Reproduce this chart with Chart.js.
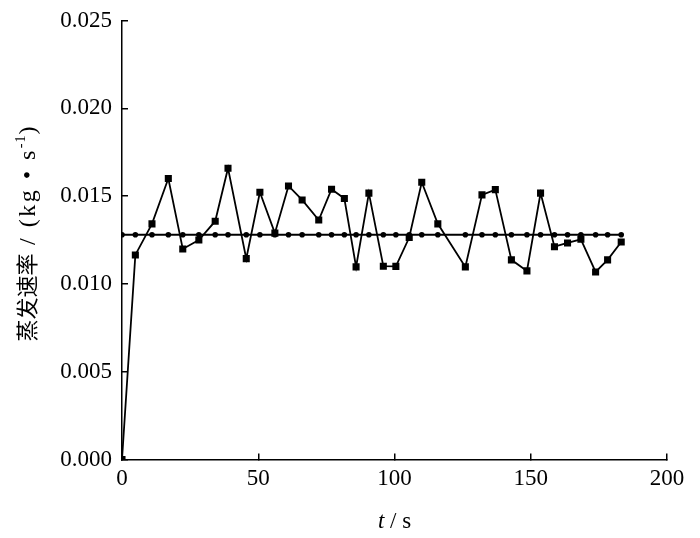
<!DOCTYPE html>
<html><head><meta charset="utf-8">
<script src="https://cdn.jsdelivr.net/npm/chart.js@4/dist/chart.umd.min.js"></script>
<style>html,body{margin:0;padding:0;background:#fff}#wrap{width:700px;height:538px;position:relative}</style>
</head><body><div id="wrap"><canvas id="c" width="700" height="538"></canvas></div>
<script>
// time (s)
const timeS = [0, 4.9, 11.0, 17.0, 22.3, 28.2, 34.2, 38.9, 45.6, 50.6, 56.1, 61.1, 66.1, 72.2, 76.9, 81.6, 85.9, 90.6, 95.9, 100.5, 105.4, 110.0, 115.9, 126.0, 132.1, 137.0, 142.9, 148.6, 153.6, 158.7, 163.5, 168.4, 173.8, 178.2, 183.2];
// measured evaporation rate (kg/s), square markers
const rateMeasured = [0, 0.01165, 0.01342, 0.01600, 0.01199, 0.01250, 0.01357, 0.01659, 0.01144, 0.01522, 0.01289, 0.01558, 0.01478, 0.01364, 0.01539, 0.01486, 0.01097, 0.01517, 0.01101, 0.01100, 0.01264, 0.01579, 0.01342, 0.01097, 0.01507, 0.01537, 0.01137, 0.01074, 0.01517, 0.01212, 0.01233, 0.01254, 0.01068, 0.01137, 0.01239];
// average evaporation rate (kg/s), circle markers
const rateAverage = [0.0128, 0.0128, 0.0128, 0.0128, 0.0128, 0.0128, 0.0128, 0.0128, 0.0128, 0.0128, 0.0128, 0.0128, 0.0128, 0.0128, 0.0128, 0.0128, 0.0128, 0.0128, 0.0128, 0.0128, 0.0128, 0.0128, 0.0128, 0.0128, 0.0128, 0.0128, 0.0128, 0.0128, 0.0128, 0.0128, 0.0128, 0.0128, 0.0128, 0.0128, 0.0128];
// axis ticks
const xTicks = [0, 50, 100, 150, 200];
const yTicks = [0.000, 0.005, 0.010, 0.015, 0.020, 0.025];
// axis titles
const xTitleVar = 't';
const xTitleUnit = ' / s';
const yTitleCJK = '蒸发速率';
const yTitleUnit = ' / (kg • s';
const yTitleSup = '-1';
const yTitleEnd = ')';

const SERIF = '"Liberation Serif", "Times New Roman", serif';
const CJK = '"Noto Sans CJK SC", sans-serif';

function drawSpaced(ctx, text, x, y, spacing) {
  for (const ch of text) {
    ctx.fillText(ch, x, y);
    x += ctx.measureText(ch).width + spacing;
  }
  return x;
}
function measureSpaced(ctx, text, spacing) {
  let w = 0;
  for (const ch of text) w += ctx.measureText(ch).width + spacing;
  return w;
}

const titlePlugin = {
  id: 'axisTitles',
  afterDraw(chart) {
    const ctx = chart.ctx;
    const area = chart.chartArea;
    ctx.save();
    ctx.fillStyle = '#000';
    // x title
    ctx.textBaseline = 'alphabetic';
    ctx.font = 'italic 23px ' + SERIF;
    const w1 = ctx.measureText(xTitleVar).width;
    ctx.font = '23px ' + SERIF;
    const w2 = ctx.measureText(xTitleUnit).width;
    let sx = (area.left + area.right) / 2 - (w1 + w2) / 2;
    ctx.font = 'italic 23px ' + SERIF;
    ctx.fillText(xTitleVar, sx, 528);
    ctx.font = '23px ' + SERIF;
    ctx.fillText(xTitleUnit, sx + w1, 528);
    ctx.restore();

    // y title (rotated)
    ctx.save();
    ctx.fillStyle = '#000';
    ctx.translate(27, 234);
    ctx.rotate(-Math.PI / 2);
    ctx.textBaseline = 'alphabetic';
    const parts = [
      {t: yTitleCJK, f: '22px ' + CJK, dy: 8, sp: 0},
      {t: yTitleUnit, f: '24px ' + SERIF, dy: 8, sp: 2.5},
      {t: yTitleSup, f: '14px ' + SERIF, dy: -2, sp: 1},
      {t: yTitleEnd, f: '24px ' + SERIF, dy: 8, sp: 0}
    ];
    let total = 0;
    parts.forEach(p => { ctx.font = p.f; p.w = measureSpaced(ctx, p.t, p.sp); total += p.w; });
    let px = -total / 2;
    parts.forEach(p => { ctx.font = p.f; drawSpaced(ctx, p.t, px, p.dy, p.sp); px += p.w; });
    ctx.restore();
  }
};

const ctx = document.getElementById('c').getContext('2d');
new Chart(ctx, {
  type: 'line',
  data: {
    datasets: [
      {
        label: 'average',
        data: timeS.map((t, i) => ({x: t, y: rateAverage[i]})),
        borderColor: '#000', backgroundColor: '#000', borderWidth: 1.8,
        pointStyle: 'circle', pointRadius: 2.8, pointBorderWidth: 0,
        tension: 0, order: 2
      },
      {
        label: 'measured',
        data: timeS.map((t, i) => ({x: t, y: rateMeasured[i]})),
        borderColor: '#000', backgroundColor: '#000', borderWidth: 1.8,
        pointStyle: 'rect', pointRadius: 5, pointBorderWidth: 0,
        tension: 0, order: 1
      }
    ]
  },
  options: {
    responsive: false,
    animation: false,
    devicePixelRatio: 1,
    layout: {padding: {left: 0, right: 33, top: 20.5, bottom: 0}},
    plugins: {legend: {display: false}, tooltip: {enabled: false}},
    scales: {
      x: {
        type: 'linear', min: 0, max: 200,
        afterBuildTicks: s => { s.ticks = xTicks.map(v => ({value: v})); },
        afterFit: s => { s.height = 78.5; s.paddingLeft = 0; s.paddingRight = 0; },
        ticks: {color: '#000', font: {family: SERIF, size: 23}, padding: 12, maxRotation: 0,
                callback: v => String(v)},
        grid: {drawOnChartArea: false, drawTicks: true, tickLength: -6, color: '#000', lineWidth: 1.5},
        border: {display: true, color: '#000', width: 1.5},
        title: {display: false}
      },
      y: {
        type: 'linear', min: 0, max: 0.025,
        afterBuildTicks: s => { s.ticks = yTicks.map(v => ({value: v})); },
        afterFit: s => { s.width = 122; s.paddingTop = 0; s.paddingBottom = 0; },
        ticks: {color: '#000', font: {family: SERIF, size: 23}, padding: 16,
                callback: v => Number(v).toFixed(3)},
        grid: {drawOnChartArea: false, drawTicks: true, tickLength: -6, color: '#000', lineWidth: 1.5},
        border: {display: true, color: '#000', width: 1.5},
        title: {display: false}
      }
    }
  },
  plugins: [titlePlugin]
});
</script>
</body></html>
